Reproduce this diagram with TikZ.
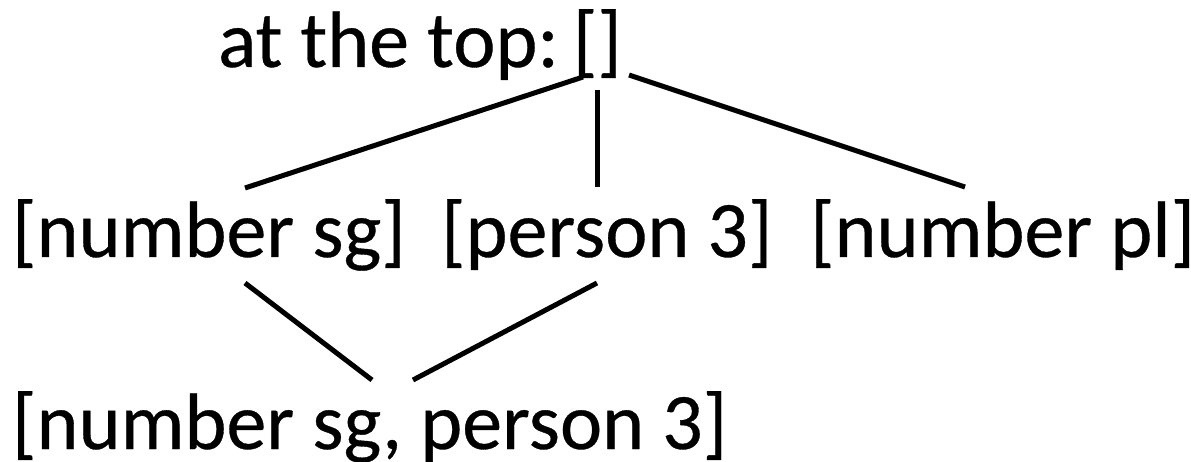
\documentclass[tikz,border=0pt]{standalone}
\usepackage{fontspec}
\setmainfont{Carlito}[FakeBold=0.4]
\begin{document}
\begin{tikzpicture}[x=1pt,y=-1pt,
  lbl/.style={anchor=base west,inner sep=0pt,outer sep=0pt,font=\fontsize{80}{90}\selectfont},
  edge/.style={line width=5pt,black}]
\useasboundingbox (0,0) rectangle (1191,462);
\node[lbl] (top) at (218,67) {at the top:\kern-4pt\ []};
\node[lbl] (sg) at (12,257) {[number sg]};
\node[lbl] (pers) at (441,257) {[person 3]};
\node[lbl] (pl) at (810,257) {[number pl]};
\node[lbl] (both) at (12,449) {[number sg, person 3]};
\coordinate (t1) at (583,77);
\coordinate (t2) at (597,90);
\coordinate (t3) at (629,75);
\coordinate (a1) at (245,188);
\coordinate (a2) at (597,187);
\coordinate (a3) at (965,187);
\coordinate (b1) at (245,283);
\coordinate (b2) at (597,283);
\coordinate (c1) at (372,380);
\coordinate (c2) at (413,380);
\draw[edge] (t1) -- (a1);
\draw[edge] (t2) -- (a2);
\draw[edge] (t3) -- (a3);
\draw[edge] (b1) -- (c1);
\draw[edge] (b2) -- (c2);
\end{tikzpicture}
\end{document}
